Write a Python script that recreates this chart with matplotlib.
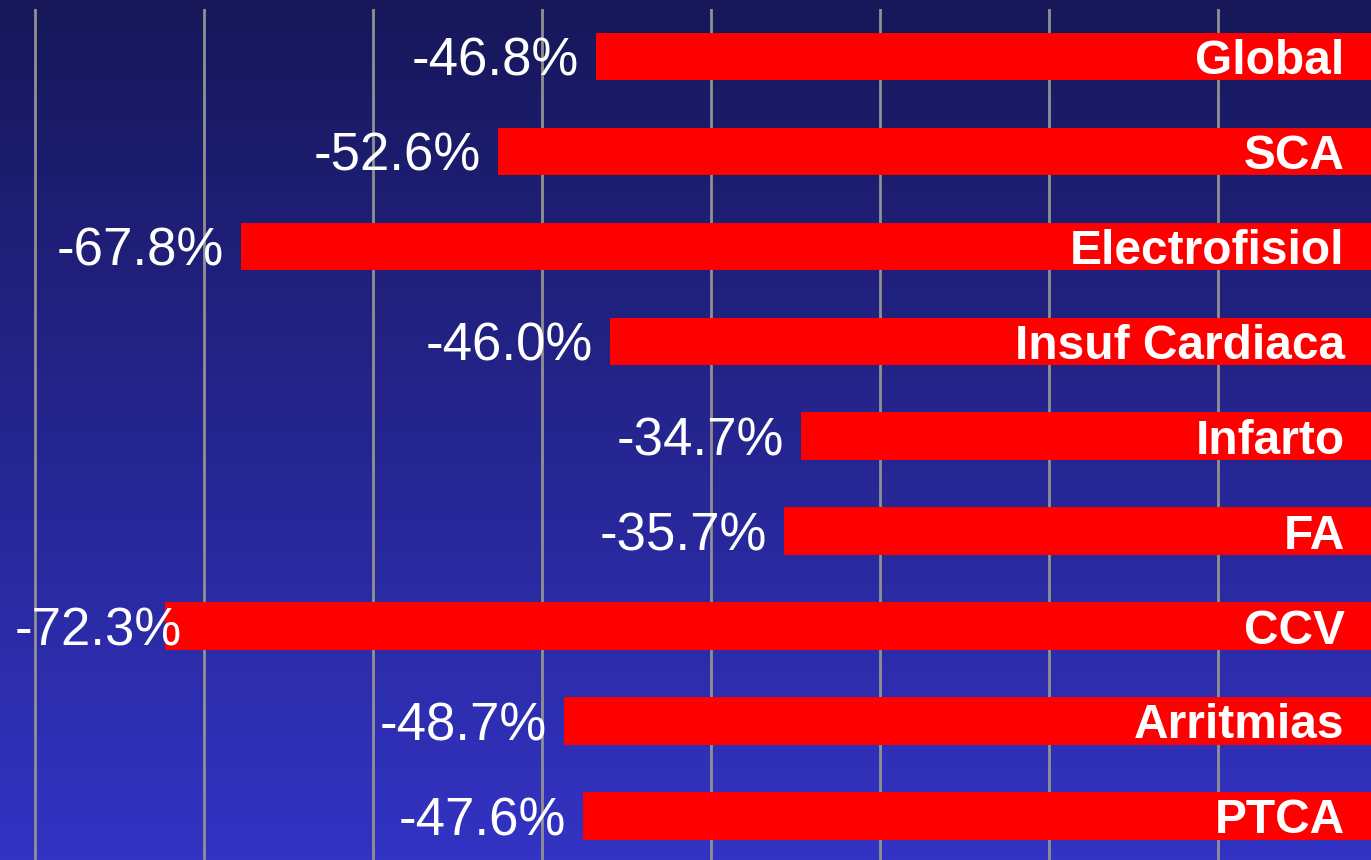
import numpy as np
import matplotlib
matplotlib.use('Agg')
import matplotlib.pyplot as plt
from matplotlib.colors import LinearSegmentedColormap

# datos
categorias = ['Global', 'SCA', 'Electrofisiol', 'Insuf Cardiaca', 'Infarto',
              'FA', 'CCV', 'Arritmias', 'PTCA']
valores = [-46.8, -52.6, -67.8, -46.0, -34.7, -35.7, -72.3, -48.7, -47.6]
grid_x = [-80, -70, -60, -50, -40, -30, -20, -10]

W, H = 1371, 860
fig = plt.figure(figsize=(W / 100, H / 100), dpi=100)

# fondo degradado
bg = fig.add_axes([0, 0, 1, 1])
cmap = LinearSegmentedColormap.from_list('fondo', ['#17175a', '#3333c4'])
grad = np.linspace(0, 1, 256).reshape(-1, 1)
bg.imshow(grad, aspect='auto', cmap=cmap, extent=[0, 1, 1, 0])
bg.set_axis_off()

# eje principal (el cero queda fuera de la imagen, a la derecha)
ax = fig.add_axes([0, -3.4 / H, 1387 / W, 854.4 / H])
ax.patch.set_alpha(0)
ax.set_xlim(-82.07, 0)
ax.set_ylim(8.5, -0.5)
for gx in grid_x:
    ax.axvline(gx, color='#909090', lw=2, zorder=1)

y = np.arange(len(categorias))
ax.barh(y, valores, height=0.5, color='#ff0000', zorder=2)

for yi, v, c in zip(y, valores, categorias):
    if v < -70:
        # no cabe a la izquierda: se pega al borde y pisa la barra
        ax.text(-81.2, yi, f'{v:.1f}%', color='white', fontsize=38,
                family='Liberation Sans', ha='left', va='center_baseline', zorder=3)
    else:
        ax.text(v - 1.0, yi, f'{v:.1f}%', color='white', fontsize=38,
                family='Liberation Sans', ha='right', va='center_baseline', zorder=3)
    ax.text(-2.5, yi, c, color='white', fontsize=34.5, fontweight='bold',
            family='Liberation Sans', ha='right', va='center_baseline', zorder=3)

ax.set_axis_off()
fig.savefig('out.png', dpi=100)
